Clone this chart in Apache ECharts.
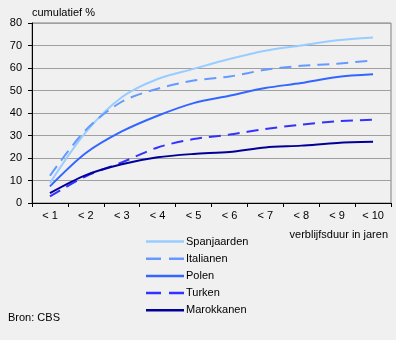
<!DOCTYPE html>
<html><head><meta charset="utf-8">
<script src="https://cdn.jsdelivr.net/npm/echarts@6/dist/echarts.min.js"></script>
<style>html,body{margin:0;padding:0;background:#f0f0f0;}#c{width:396px;height:340px;}</style>
</head><body><div id="c"></div>
<script>
var categories = ['< 1','< 2','< 3','< 4','< 5','< 6','< 7','< 8','< 9','< 10'];
var spanjaarden = [8.9, 31.5, 47, 55.1, 59.6, 64, 67.7, 70, 72.3, 73.6];
var italianen   = [12.1, 32.5, 45, 50.8, 54.4, 56.2, 59.2, 61, 61.9, 63.4];
var polen       = [7.4, 22.2, 31.8, 38.8, 44.4, 47.7, 51.1, 53.3, 56, 57.2];
var turken      = [2.9, 11.9, 18, 24.7, 28.4, 30.4, 32.9, 34.8, 36.3, 37];
var marokkanen  = [4.4, 12.4, 17.2, 20.3, 21.8, 22.7, 24.7, 25.5, 26.7, 27.2];
var seriesNames = ['Spanjaarden','Italianen','Polen','Turken','Marokkanen'];
var yTicks = [0,10,20,30,40,50,60,70,80];

var font = 'Liberation Sans, Arial, sans-serif';
var colors = ['#99ccff', '#6699ff', '#3366ff', '#3333ff', '#000099'];
var dashed = [false, true, false, true, false];
var allData = [spanjaarden, italianen, polen, turken, marokkanen];

var series = seriesNames.map(function(n, i) {
  return {name: n, type: 'line', data: allData[i], symbol: 'none', smooth: 0.3,
    lineStyle: {color: colors[i], width: 2, type: dashed[i] ? [12, 7] : 'solid'},
    itemStyle: {color: colors[i]}};
});

var graphics = [
  {type: 'text', left: 32, top: 7, style: {text: 'cumulatief %', font: '11px ' + font, fill: '#000'}},
  {type: 'text', right: 8, top: 229, style: {text: 'verblijfsduur in jaren', font: '11px ' + font, fill: '#000'}},
  {type: 'text', left: 8, top: 312, style: {text: 'Bron: CBS', font: '11px ' + font, fill: '#000'}}
];
seriesNames.forEach(function(n, i) {
  var y = 241.5 + i * 17.2;
  graphics.push({type: 'line', shape: {x1: 146, y1: y, x2: 184, y2: y},
    style: {stroke: colors[i], lineWidth: 2.5, lineDash: dashed[i] ? [15, 8] : null}});
  graphics.push({type: 'text', x: 186, y: y, style: {text: n, font: '11px ' + font, fill: '#000', textVerticalAlign: 'middle', verticalAlign: 'middle'}});
});

var chart = echarts.init(document.getElementById('c'), null, {renderer: 'canvas'});
chart.setOption({
  backgroundColor: '#f0f0f0',
  animation: false,
  textStyle: {fontFamily: font},
  grid: {left: 32, right: 5, top: 23, bottom: 137, show: true, borderColor: '#808080', borderWidth: 1, backgroundColor: 'transparent'},
  xAxis: {type: 'category', data: categories, boundaryGap: true,
    axisLine: {lineStyle: {color: '#000', width: 1}},
    axisTick: {show: true, length: 4, lineStyle: {color: '#000'}},
    axisLabel: {color: '#000', fontSize: 11, fontFamily: font, margin: 7, interval: 0}},
  yAxis: {type: 'value', min: 0, max: 80, interval: 10,
    axisLine: {show: true, lineStyle: {color: '#000', width: 1}},
    axisTick: {show: true, length: 4, lineStyle: {color: '#000'}},
    axisLabel: {color: '#000', fontSize: 11, fontFamily: font, margin: 10,
      formatter: function(v){ return yTicks.indexOf(v) >= 0 ? String(v) : ''; }},
    splitLine: {show: true, lineStyle: {color: '#a0a0a0', width: 1}}},
  graphic: graphics,
  series: series
});
</script></body></html>
